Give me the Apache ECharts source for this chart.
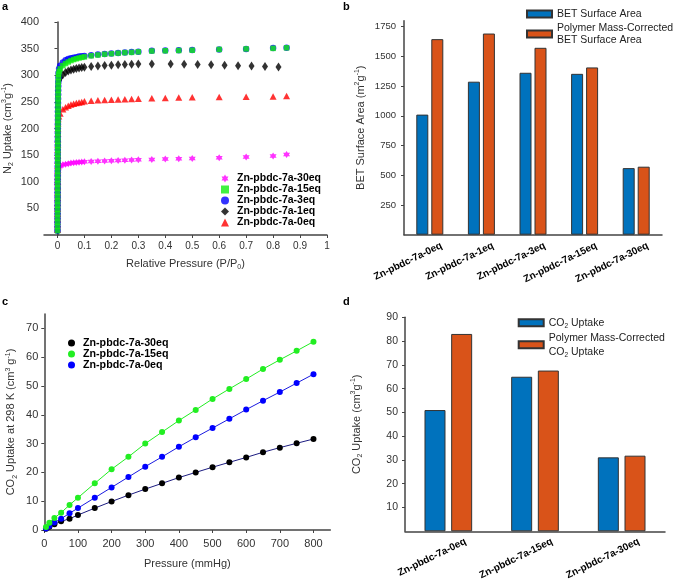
<!DOCTYPE html>
<html><head><meta charset="utf-8">
<script src="https://cdn.jsdelivr.net/npm/echarts@6/dist/echarts.min.js"></script>
<style>html,body{margin:0;padding:0;background:#fff}#c{width:673px;height:585px}</style>
</head><body><div id="c"></div>
<script>
// ---------- Panel a: N2 isotherms [P/P0, uptake] ----------
const a30eq = [[0.0004,10],[0.0004,18],[0.0005,26],[0.0005,34],[0.0006,42],[0.0006,50],[0.0007,58],[0.0008,66],[0.0008,74],[0.0009,82],[0.001,90],[0.0011,98],[0.0012,106],[0.0014,114],[0.0018,120],[0.003,125],[0.006,128],[0.01,130],[0.02,132],[0.03,133],[0.04,134],[0.05,135],[0.06,135.5],[0.07,136],[0.08,136.5],[0.09,137],[0.1,137.5],[0.125,138],[0.15,138.5],[0.175,139],[0.2,139.5],[0.225,140],[0.25,140.5],[0.275,141],[0.3,141.5],[0.35,142],[0.4,142.5],[0.45,143],[0.5,143.5],[0.6,145],[0.7,146.5],[0.8,148.5],[0.85,151]];
const a0eq = [[0.0003,10],[0.0003,20],[0.0004,30],[0.0004,40],[0.0005,50],[0.0005,60],[0.0006,70],[0.0006,80],[0.0007,90],[0.0007,100],[0.0008,110],[0.0008,120],[0.0009,130],[0.0009,140],[0.001,150],[0.0011,160],[0.0012,170],[0.0013,180],[0.0014,190],[0.0016,200],[0.0019,210],[0.0025,218],[0.005,223],[0.01,228],[0.02,236],[0.03,240],[0.04,242.5],[0.05,245],[0.06,246.5],[0.07,248],[0.08,249],[0.09,250],[0.1,251],[0.125,252],[0.15,253],[0.175,253.5],[0.2,254],[0.225,254.5],[0.25,255],[0.275,255.5],[0.3,256],[0.35,257],[0.4,257.5],[0.45,258],[0.5,258.5],[0.6,259],[0.7,259.5],[0.8,260],[0.85,261]];
const a1eq = [[0.0003,10],[0.0003,20],[0.0004,30],[0.0004,40],[0.0005,50],[0.0005,60],[0.0006,70],[0.0006,80],[0.0007,90],[0.0007,100],[0.0008,110],[0.0008,120],[0.0009,130],[0.0009,140],[0.001,150],[0.001,160],[0.0011,170],[0.0011,180],[0.0012,190],[0.0012,200],[0.0013,210],[0.0014,220],[0.0015,230],[0.0016,240],[0.0018,250],[0.002,260],[0.0023,270],[0.0027,278],[0.0035,285],[0.006,290],[0.01,295],[0.02,301],[0.03,305],[0.04,308],[0.05,310],[0.06,311.5],[0.07,312.5],[0.08,313.5],[0.09,314.5],[0.1,315],[0.125,316.5],[0.15,317.5],[0.175,318.5],[0.2,319],[0.225,319.5],[0.25,320],[0.275,320.5],[0.3,321],[0.35,321],[0.42,321],[0.47,320.5],[0.52,320],[0.57,319.5],[0.62,319],[0.67,318],[0.72,317.5],[0.77,316.5],[0.82,315.5]];
const a3eq = [[0.0002,8],[0.0002,16],[0.0003,24],[0.0003,32],[0.0004,40],[0.0004,48],[0.0005,56],[0.0005,64],[0.0006,72],[0.0006,80],[0.0007,88],[0.0007,96],[0.0008,104],[0.0008,112],[0.0009,120],[0.0009,128],[0.001,136],[0.001,144],[0.0011,152],[0.0011,160],[0.0012,168],[0.0012,176],[0.0013,184],[0.0013,192],[0.0014,200],[0.0015,208],[0.0016,216],[0.0017,224],[0.0018,232],[0.0019,240],[0.002,248],[0.0022,256],[0.0024,264],[0.0026,272],[0.0028,280],[0.003,288],[0.0035,296],[0.004,304],[0.006,312],[0.01,318],[0.02,324],[0.03,328],[0.04,330.5],[0.05,332],[0.06,333],[0.07,334],[0.08,335],[0.09,335.5],[0.1,336],[0.125,337.5],[0.15,339],[0.175,340],[0.2,341],[0.225,342],[0.25,342.5],[0.275,343.5],[0.3,344],[0.35,346],[0.4,346.5],[0.45,347],[0.5,347.5],[0.6,348.5],[0.7,349.5],[0.8,351],[0.85,351.5]];
const a15eq = [[0.0002,8],[0.0002,16],[0.0003,24],[0.0003,32],[0.0004,40],[0.0004,48],[0.0005,56],[0.0005,64],[0.0006,72],[0.0006,80],[0.0007,88],[0.0007,96],[0.0008,104],[0.0008,112],[0.0009,120],[0.0009,128],[0.001,136],[0.001,144],[0.0011,152],[0.0011,160],[0.0012,168],[0.0012,176],[0.0013,184],[0.0013,192],[0.0014,200],[0.0015,208],[0.0016,216],[0.0017,224],[0.0018,232],[0.0019,240],[0.002,248],[0.0022,256],[0.0024,264],[0.0026,272],[0.0028,280],[0.003,288],[0.0035,296],[0.004,302],[0.006,307],[0.01,312],[0.02,318],[0.03,322],[0.04,325],[0.05,327.5],[0.06,329.5],[0.07,331],[0.08,332.5],[0.09,333.5],[0.1,334.5],[0.125,336.5],[0.15,338],[0.175,339.5],[0.2,340.5],[0.225,341.5],[0.25,342.5],[0.275,343],[0.3,344],[0.35,345.5],[0.4,346],[0.45,346.5],[0.5,347],[0.6,348.5],[0.7,349.5],[0.8,350.5],[0.85,351.5]];
const aXTicks = [0,0.1,0.2,0.3,0.4,0.5,0.6,0.7,0.8,0.9,1];

// ---------- Panel b: BET surface area ----------
const bCats = ['Zn-pbdc-7a-0eq','Zn-pbdc-7a-1eq','Zn-pbdc-7a-3eq','Zn-pbdc-7a-15eq','Zn-pbdc-7a-30eq'];
const bBET = [1010, 1287, 1362, 1353, 560];
const bCorr = [1645, 1692, 1572, 1407, 572];

// ---------- Panel c: CO2 isotherms at 298 K ----------
const cPressure = [5,15,30,50,75,100,150,200,250,300,350,400,450,500,550,600,650,700,750,800];
const c30eq = [0.4,1.1,2.0,3.0,3.9,5.2,7.6,9.9,12.1,14.2,16.2,18.2,20.0,21.8,23.5,25.2,27.0,28.6,30.1,31.6];
const c15eq = [1.0,2.5,4.2,6.0,8.7,11.2,16.2,21.1,25.4,30.0,34.0,38.0,41.7,45.5,49.0,52.4,55.9,59.1,62.2,65.4];
const c0eq  = [0.5,1.4,2.6,3.9,5.8,7.6,11.2,14.8,18.4,22.0,25.4,28.9,32.2,35.4,38.6,41.8,44.9,47.9,51.0,54.1];

// ---------- Panel d: CO2 uptake bars ----------
const dCats = ['Zn-pbdc-7a-0eq','Zn-pbdc-7a-15eq','Zn-pbdc-7a-30eq'];
const dCO2 = [51, 65, 31.1];
const dCorr = [83, 67.6, 31.8];

const STAR = 'path://M0,-10 L2.9,-5 L8.66,-5 L5.8,0 L8.66,5 L2.9,5 L0,10 L-2.9,5 L-8.66,5 L-5.8,0 L-8.66,-5 L-2.9,-5 Z';
const FONT = '"Liberation Sans", Arial, sans-serif';
const AX = '#444';
const TXT = '#333';
const rich = {
  n: {fontSize: 11, lineHeight: 14, verticalAlign: 'middle', color: TXT, fontFamily: FONT},
  sub: {fontSize: 7, lineHeight: 14, verticalAlign: 'bottom', color: TXT, fontFamily: FONT},
  sup: {fontSize: 7, lineHeight: 14, verticalAlign: 'top', color: TXT, fontFamily: FONT}
};
const BLUE = '#0072BD', ORANGE = '#D95319';
const pairs = (xs, ys) => xs.map((x, i) => [x, ys[i]]);
const plain = v => String(v);

function valAxis(gi, o) {
  return Object.assign({
    type: 'value', gridIndex: gi,
    axisLine: {show: true, lineStyle: {color: AX, width: 1.5}},
    axisTick: {show: true, length: 3, lineStyle: {color: AX}},
    splitLine: {show: false},
    nameLocation: 'middle',
    nameTextStyle: {color: TXT, fontSize: 11, fontFamily: FONT, rich: rich}
  }, o);
}

const chart = echarts.init(document.getElementById('c'), null, {renderer: 'canvas'});
chart.setOption({
  animation: false,
  backgroundColor: '#fff',
  textStyle: {fontFamily: FONT},
  graphic: [
    {type: 'text', left: 2, top: 1, style: {text: 'a', font: 'bold 11px ' + FONT, fill: '#000'}},
    {type: 'text', left: 343, top: 1, style: {text: 'b', font: 'bold 11px ' + FONT, fill: '#000'}},
    {type: 'text', left: 2, top: 296, style: {text: 'c', font: 'bold 11px ' + FONT, fill: '#000'}},
    {type: 'text', left: 343, top: 296, style: {text: 'd', font: 'bold 11px ' + FONT, fill: '#000'}}
  ],
  grid: [
    {left: 44, top: 22, width: 283, height: 213},
    {left: 404, top: 20.7, width: 258, height: 214},
    {left: 44.3, top: 314, width: 286, height: 216},
    {left: 405, top: 317.3, width: 260, height: 214}
  ],
  xAxis: [
    valAxis(0, {min: -0.05, max: 1,
      axisLabel: {color: TXT, fontSize: 10, fontFamily: FONT, margin: 6, customValues: aXTicks, formatter: plain},
      axisTick: {show: true, length: 3, lineStyle: {color: AX}, customValues: aXTicks},
      name: '{n|Relative Pressure (P/P}{sub|0}{n|)}', nameGap: 22}),
    {type: 'category', gridIndex: 1, data: bCats,
      axisLine: {lineStyle: {color: AX, width: 1.5}}, axisTick: {show: false},
      axisLabel: {interval: 0, rotate: 26, fontSize: 10, fontWeight: 'bold', color: '#000', fontFamily: FONT, margin: 16, padding: [0, -13, 0, 0]}},
    valAxis(2, {min: 0, max: 850, interval: 100,
      axisLabel: {color: TXT, fontSize: 11, fontFamily: FONT, margin: 8, showMaxLabel: false, formatter: plain},
      name: 'Pressure (mmHg)', nameGap: 28}),
    {type: 'category', gridIndex: 3, data: dCats,
      axisLine: {lineStyle: {color: AX, width: 1.5}}, axisTick: {show: false},
      axisLabel: {interval: 0, rotate: 26, fontSize: 10, fontWeight: 'bold', color: '#000', fontFamily: FONT, margin: 18, padding: [0, -19, 0, 0]}}
  ],
  yAxis: [
    valAxis(0, {min: 0, max: 400, interval: 50,
      axisLabel: {color: TXT, fontSize: 11, fontFamily: FONT, margin: 5, showMinLabel: false, formatter: plain},
      name: '{n|N}{sub|2}{n| Uptake (cm}{sup|3}{n|g}{sup|-1}{n|)}', nameGap: 29}),
    valAxis(1, {min: 0, max: 1800, interval: 250,
      axisLabel: {color: TXT, fontSize: 9.5, fontFamily: FONT, margin: 8, showMinLabel: false, showMaxLabel: false, formatter: plain},
      name: '{n|BET Surface Area (m}{sup|2}{n|g}{sup|-1}{n|)}', nameGap: 36}),
    valAxis(2, {min: 0, max: 75, interval: 10,
      axisLabel: {color: TXT, fontSize: 11, fontFamily: FONT, margin: 6, showMaxLabel: false, formatter: plain},
      name: '{n|CO}{sub|2}{n| Uptake at 298 K (cm}{sup|3}{n| g}{sup|-1}{n|)}', nameGap: 26}),
    valAxis(3, {min: 0, max: 90, interval: 10,
      axisLabel: {color: TXT, fontSize: 10.5, fontFamily: FONT, margin: 7, showMinLabel: false, formatter: plain},
      name: '{n|CO}{sub|2}{n| Uptake (cm}{sup|3}{n|g}{sup|-1}{n|)}', nameGap: 41})
  ],
  legend: [
    {orient: 'vertical', left: 221, top: 173, padding: 0, itemWidth: 8, itemHeight: 8, itemGap: 0,
      textStyle: {fontSize: 10.5, fontWeight: 'bold', color: '#000', fontFamily: FONT, lineHeight: 11, padding: [0,0,0,3]},
      data: [{name: 'Zn-pbdc-7a-30eq', icon: STAR}, {name: 'Zn-pbdc-7a-15eq', icon: 'rect'},
             {name: 'Zn-pbdc-7a-3eq', icon: 'circle'}, {name: 'Zn-pbdc-7a-1eq', icon: 'diamond'},
             {name: 'Zn-pbdc-7a-0eq', icon: 'triangle'}]},
    {orient: 'vertical', left: 526, top: 8, padding: 0, itemWidth: 25, itemHeight: 7, itemGap: 2,
      textStyle: {fontSize: 10.5, color: '#222', fontFamily: FONT, lineHeight: 12},
      data: [{name: 'BET Surface Area', icon: 'rect'}, {name: 'Polymer Mass-Corrected\nBET Surface Area', icon: 'rect'}]},
    {orient: 'vertical', left: 68, top: 337.5, padding: 0, itemWidth: 7, itemHeight: 7, itemGap: 0,
      textStyle: {fontSize: 10.7, fontWeight: 'bold', color: '#000', fontFamily: FONT, lineHeight: 11, padding: [0,0,0,3]},
      formatter: n => n.replace(' (c)', ''),
      data: [{name: 'Zn-pbdc-7a-30eq (c)', icon: 'circle'}, {name: 'Zn-pbdc-7a-15eq (c)', icon: 'circle'}, {name: 'Zn-pbdc-7a-0eq (c)', icon: 'circle'}]},
    {orient: 'vertical', left: 517.7, top: 315.7, padding: 0, itemWidth: 25, itemHeight: 7, itemGap: 1,
      textStyle: {fontSize: 10.5, color: '#222', fontFamily: FONT, lineHeight: 14,
        rich: {n: {fontSize: 10.5, color: '#222', lineHeight: 14, verticalAlign: 'middle'}, sub: {fontSize: 6.5, color: '#222', lineHeight: 14, verticalAlign: 'bottom'}}},
      formatter: n => n === 'CO2 Uptake' ? '{n|CO}{sub|2}{n| Uptake}' : '{n|Polymer Mass-Corrected}\n{n|CO}{sub|2}{n| Uptake}',
      data: [{name: 'CO2 Uptake', icon: 'rect'}, {name: 'Polymer Mass-Corrected CO2 Uptake', icon: 'rect'}]}
  ],
  series: [
    {name: 'Zn-pbdc-7a-30eq', type: 'scatter', xAxisIndex: 0, yAxisIndex: 0, data: a30eq, symbol: STAR, symbolSize: 7, itemStyle: {color: '#ff00ff'}},
    {name: 'Zn-pbdc-7a-0eq', type: 'scatter', xAxisIndex: 0, yAxisIndex: 0, data: a0eq, symbol: 'triangle', symbolSize: [7, 6.5], itemStyle: {color: '#ff0000'}},
    {name: 'Zn-pbdc-7a-1eq', type: 'scatter', xAxisIndex: 0, yAxisIndex: 0, data: a1eq, symbol: 'diamond', symbolSize: [6, 9], itemStyle: {color: '#000000'}},
    {name: 'Zn-pbdc-7a-3eq', type: 'scatter', xAxisIndex: 0, yAxisIndex: 0, data: a3eq, symbol: 'circle', symbolSize: 6.5, itemStyle: {color: '#0000ff'}},
    {name: 'Zn-pbdc-7a-15eq', type: 'scatter', xAxisIndex: 0, yAxisIndex: 0, data: a15eq, symbol: 'rect', symbolSize: 5.5, itemStyle: {color: '#11ee11'}},

    {name: 'BET Surface Area', type: 'bar', xAxisIndex: 1, yAxisIndex: 1, data: bBET, barWidth: 12, barGap: '25%',
      itemStyle: {color: BLUE, borderColor: '#333', borderWidth: 1}},
    {name: 'Polymer Mass-Corrected\nBET Surface Area', type: 'bar', xAxisIndex: 1, yAxisIndex: 1, data: bCorr, barWidth: 12, barGap: '25%',
      itemStyle: {color: ORANGE, borderColor: '#333', borderWidth: 1}},

    {name: 'Zn-pbdc-7a-30eq (c)', type: 'line', xAxisIndex: 2, yAxisIndex: 2, data: pairs(cPressure, c30eq), symbol: 'circle', symbolSize: 6,
      itemStyle: {color: '#000'}, lineStyle: {color: '#1c1c80', width: 1}},
    {name: 'Zn-pbdc-7a-0eq (c)', type: 'line', xAxisIndex: 2, yAxisIndex: 2, data: pairs(cPressure, c0eq), symbol: 'circle', symbolSize: 6,
      itemStyle: {color: '#0000ff'}, lineStyle: {color: '#1a1ae0', width: 1}},
    {name: 'Zn-pbdc-7a-15eq (c)', type: 'line', xAxisIndex: 2, yAxisIndex: 2, data: pairs(cPressure, c15eq), symbol: 'circle', symbolSize: 6,
      itemStyle: {color: '#22ee22'}, lineStyle: {color: '#22ee22', width: 1}},

    {name: 'CO2 Uptake', type: 'bar', xAxisIndex: 3, yAxisIndex: 3, data: dCO2, barWidth: 21, barGap: '27%',
      itemStyle: {color: BLUE, borderColor: '#333', borderWidth: 1}},
    {name: 'Polymer Mass-Corrected CO2 Uptake', type: 'bar', xAxisIndex: 3, yAxisIndex: 3, data: dCorr, barWidth: 21, barGap: '27%',
      itemStyle: {color: ORANGE, borderColor: '#333', borderWidth: 1}}
  ]
});
</script>
</body></html>
